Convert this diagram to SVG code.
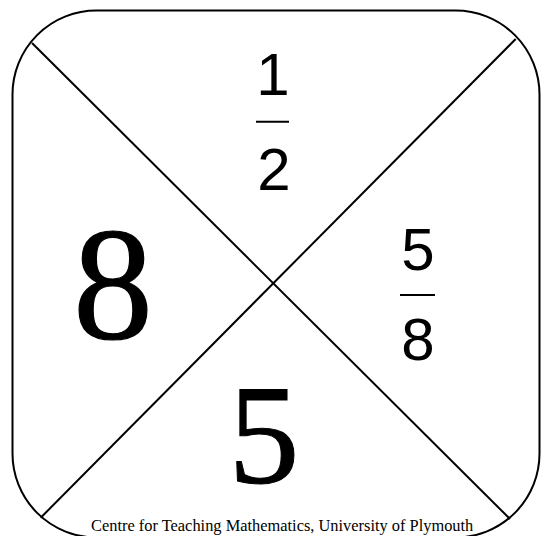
<svg xmlns="http://www.w3.org/2000/svg" width="545" height="536" viewBox="0 0 545 536">
<style>
.b{fill:none;stroke:#000;stroke-width:2}
.a{font-family:"Liberation Sans",Arial,sans-serif;font-size:60px;text-anchor:middle;fill:#000}
.t{font-family:"Liberation Serif","Times New Roman",serif;fill:#000}
</style>
<rect width="545" height="536" fill="#fff"/>
<g id="frame"><rect class="b" x="12.5" y="10.5" width="527" height="527" rx="84" ry="84"/></g>
<g id="connectors">
<line class="b" x1="32" y1="43" x2="510" y2="519"/>
<line class="b" x1="515.7" y1="39" x2="40.7" y2="517.7"/>
</g>
<g id="top"><text class="a" x="273" y="95">1</text><line class="b" x1="256" y1="121.7" x2="289" y2="121.7"/><text class="a" x="274" y="190">2</text></g>
<g id="right"><text class="a" x="418" y="270">5</text><line class="b" x1="400" y1="295" x2="435" y2="295"/><text class="a" x="418" y="360">8</text></g>
<g id="left"><text class="t" x="113" y="338" font-size="160" text-anchor="middle" stroke="#000" stroke-width="1.2">8</text></g>
<g id="bottom"><text class="t" x="264" y="483" font-size="142" text-anchor="middle" stroke="#000" stroke-width="1">5</text></g>
<text class="t" x="91" y="531" font-size="16.4">Centre for Teaching Mathematics, University of Plymouth</text>
</svg>
